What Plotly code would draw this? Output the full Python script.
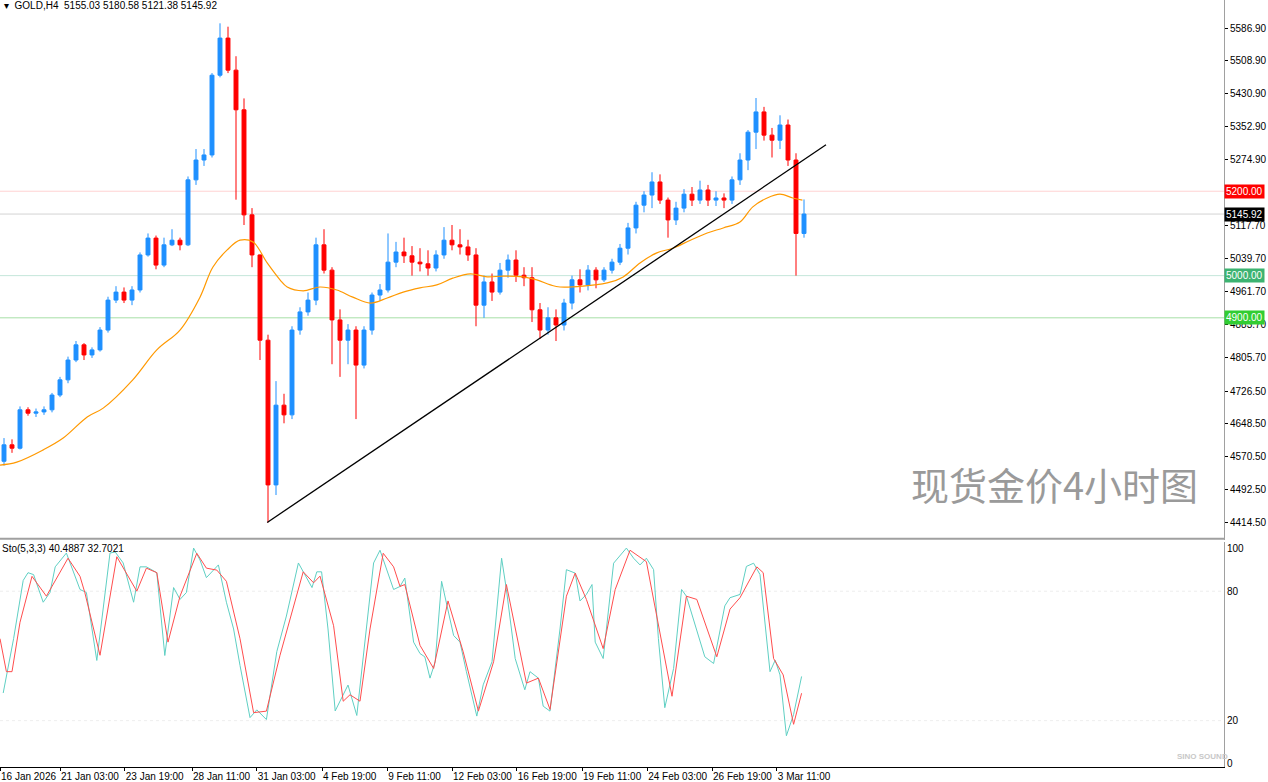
import plotly.graph_objects as go

# H4 candles, one per ~2 bars of the original (bar index on x)
closes = [4599, 4591, 4682, 4674, 4677, 4682, 4717, 4753, 4800, 4836,
          4812, 4824, 4871, 4942, 4961, 4942, 4966, 5049, 5089, 5025,
          5073, 5084, 5073, 5227, 5274, 5286, 5475, 5563, 5487, 5393,
          5144, 5049, 4847, 4504, 4693, 4670, 4871, 4914, 4942, 5073,
          5013, 4895, 4847, 4871, 4788, 4871, 4954, 4966, 5032, 5056,
          5047, 5032, 5028, 5018, 5049, 5084, 5073, 5068, 5049, 4930,
          4985, 4961, 5013, 5037, 5001, 4995, 4919, 4871, 4900, 4883,
          4935, 4990, 4978, 5013, 4990, 5013, 5032, 5065, 5113, 5167,
          5191, 5222, 5179, 5132, 5160, 5193, 5179, 5203, 5179, 5184,
          5179, 5227, 5274, 5340, 5388, 5333, 5321, 5357, 5274, 5100,
          5145.92]
opens = [4560, 4599, 4591, 4682, 4674, 4677, 4682, 4717, 4753, 4800,
         4836, 4812, 4824, 4871, 4942, 4961, 4942, 4966, 5049, 5089,
         5025, 5073, 5084, 5073, 5227, 5274, 5286, 5475, 5563, 5487,
         5393, 5144, 5049, 4847, 4504, 4693, 4670, 4871, 4914, 4942,
         5073, 5013, 4895, 4847, 4871, 4788, 4871, 4954, 4966, 5032,
         5056, 5047, 5032, 5028, 5018, 5049, 5084, 5073, 5068, 5049,
         4930, 4985, 4961, 5013, 5037, 5001, 4995, 4919, 4871, 4900,
         4883, 4935, 4990, 4978, 5013, 4990, 5013, 5032, 5065, 5113,
         5167, 5191, 5222, 5179, 5132, 5160, 5193, 5179, 5203, 5179,
         5184, 5179, 5227, 5274, 5340, 5388, 5333, 5321, 5357, 5274,
         5100]
highs = [4615, 4612, 4690, 4688, 4685, 4690, 4722, 4760, 4808, 4845,
         4840, 4830, 4878, 4950, 4975, 4972, 4975, 5055, 5100, 5095,
         5090, 5110, 5090, 5235, 5300, 5300, 5480, 5598, 5590, 5520,
         5420, 5160, 5050, 4860, 4750, 4720, 4880, 4925, 4960, 5090,
         5110, 5020, 4920, 4885, 4880, 4880, 4960, 4980, 5100, 5080,
         5090, 5070, 5065, 5060, 5060, 5115, 5120, 5110, 5085, 5065,
         5000, 5005, 5030, 5050, 5060, 5020, 5020, 4935, 4925, 4920,
         4945, 5000, 5015, 5025, 5020, 5020, 5040, 5075, 5125, 5175,
         5200, 5245, 5240, 5185, 5175, 5205, 5210, 5225, 5215, 5200,
         5195, 5235, 5290, 5345, 5421, 5400, 5350, 5380, 5370, 5290,
         5180.58]
lows = [4550, 4580, 4588, 4668, 4665, 4670, 4676, 4712, 4745, 4795,
        4800, 4805, 4820, 4865, 4935, 4935, 4930, 4960, 5045, 5015,
        5020, 5070, 5060, 5070, 5215, 5260, 5280, 5470, 5480, 5180,
        5120, 5020, 4800, 4415, 4480, 4650, 4660, 4860, 4905, 4930,
        5005, 4790, 4760, 4790, 4660, 4780, 4860, 4940, 4960, 5020,
        5030, 5000, 5010, 5000, 5010, 5040, 5060, 5050, 5035, 4880,
        4900, 4940, 4955, 4995, 4985, 4975, 4890, 4850, 4860, 4845,
        4870, 4920, 4960, 4965, 4970, 4985, 5005, 5025, 5050, 5100,
        5150, 5160, 5170, 5090, 5120, 5150, 5165, 5170, 5165, 5165,
        5160, 5170, 5215, 5250, 5300, 5320, 5280, 5300, 5260, 5000,
        5090]

# moving average
ma_idx = [-0.5, 1.6, 4.9, 7.4, 10.4, 12.4, 16.1, 19.1, 22, 24.5, 26.1, 27.9,
          29.5, 31.1, 32.9, 34.5, 35.4, 37.4, 39.5, 41.6, 43.6, 45.8, 47.9,
          49.9, 52, 54.1, 56.1, 58.3, 60.4, 62.4, 64.9, 66.6, 68.3, 69.5,
          75.4, 77.4, 79.5, 81.6, 83.6, 85.8, 87.9, 89.9, 92, 93.6, 95.4,
          97, 98.6, 99.8]
ma_val = [4551, 4558, 4587, 4615, 4665, 4686, 4753, 4824, 4871, 4949, 5020, 5061,
          5084, 5080, 5030, 4990, 4973, 4964, 4973, 4966, 4949, 4935, 4947,
          4961, 4971, 4978, 4994, 5004, 4997, 4999, 4997, 4990, 4978, 4973,
          4983, 4997, 5030, 5054, 5065, 5084, 5101, 5113, 5127, 5163, 5184,
          5193, 5184, 5179]

trend_idx = [32.9, 102.75]
trend_val = [4415, 5310]

k_idx = [-0.1, 0.5, 1.2, 2.4, 3.0, 3.7, 4.9, 5.75, 6.4, 7.8, 9.5, 10.3, 11.6,
         13.25, 13.9, 14.9, 16.2, 17, 17.8, 19.1, 20.1, 21.2, 22, 22.8, 23.7,
         24.5, 25.3, 26.8, 27.8, 28.7, 29.5, 30.75, 31.6, 32.8, 34.1, 35.3,
         36.8, 38.5, 39.1, 39.7, 40.5, 41.4, 43, 44.1, 45.3, 46.2, 47, 48.7,
         49.5, 50.1, 51.2, 52, 52.6, 53.25, 53.9, 54.7, 56.2, 57, 57.8, 59.1,
         59.9, 61, 62.2, 62.8, 63.9, 65.1, 65.75, 66.8, 67.4, 68.25, 69.5,
         70.3, 71.4, 72, 72.8, 73.5, 73.9, 74.9, 76.2, 77.8, 78.7, 79.5, 80.3,
         81.2, 81.8, 82.6, 83.7, 84.7, 85.3, 87.6, 88.7, 90.1, 90.75, 92,
         92.8, 93.7, 94.5, 95.75, 96.4, 97, 97.8, 98.7, 99.7]
k_val = [32.8, 44, 58, 85, 88.6, 87.7, 74.9, 79.4, 91.3, 97.7, 80.8, 79.4, 47.9,
         97.7, 98.2, 93.1, 74.9, 91.3, 91.3, 88.6, 50.2, 81.7, 76.2, 79.4, 100,
         94.5, 86.3, 92.2, 74.9, 62.5, 45.6, 21.4, 25, 20.5, 52, 68.5,
         93.1, 81.7, 89, 89, 62.5, 24.5, 36.5, 22.4, 62.5, 93.1, 99, 80.8,
         82.2, 86.1, 56.4, 51.1, 49.6, 39.7, 47.3, 84.6, 59.5, 56.4, 42.7, 22.1,
         36.6, 47.3, 95.3, 80.8, 48.8, 34.3, 42.7, 39.7, 26.7, 24.4, 62.5,
         90, 88.4, 75.5, 78.5, 83.1, 56.4, 48.8, 93, 100, 95.3, 92.2, 95.3,
         90, 58, 26, 44.2, 80.8, 77.7, 49.6, 46.5, 73.2, 77, 78.5,
         91.5, 93, 87.7, 42.7, 48, 41.2, 13, 22.9, 40.4887]
d_idx = [-0.5, 0.3, 1, 2.0, 3.5, 5.3, 8.0, 9.5, 10.1, 12, 14.1, 15.75, 16.6,
         17.8, 19.1, 20.5, 22, 24.1, 25.3, 26.6, 27.8, 29.5, 31.2, 32.8, 34.5,
         37.4, 38.7, 39.5, 41.2, 42.4, 43.25, 44.5, 45.75, 47.4, 48.7, 49.5,
         50.1, 52, 53.7, 55.5, 57.4, 59.3, 61.2, 62.8, 65.3, 66.8, 68.25, 70.3,
         71.4, 72.8, 74.9, 76.4, 78.25, 80.3, 82.4, 83.5, 85.3, 86.6, 89.1,
         90.75, 92, 94.1, 94.9, 96.2, 97.4, 98.7, 99.7]
d_val = [58, 42.7, 42.7, 65.6, 86.9, 77.7, 95.3, 86.9, 79.4, 50.3, 96, 85.4, 80,
         90.7, 88.6, 56.4, 77.7, 97.6, 90.7, 89.8, 84.6, 58, 23.7, 24.4, 50.3,
         89, 83.9, 87, 64, 29, 32, 29, 62.5, 97.6, 91.3, 82.2,
         83.1, 54.9, 44.2, 75.5, 51.9, 24.4, 47.3, 83.1, 37.4, 39.7, 25.2, 77.7,
         88.4, 76.2, 53.4, 80.8, 99, 93.7, 51.9, 31.3, 77.7, 76.2, 49.6,
         71.7, 77, 91.3, 88.6, 48.8, 41.2, 18.3, 32.7021]

price_ticks = [5586.90, 5508.90, 5430.90, 5352.90, 5274.90, 5117.70, 5039.70,
               4961.70, 4883.70, 4805.70, 4726.50, 4648.50, 4570.50, 4492.50, 4414.50]
time_idx = [-0.5, 7, 15.1, 23.5, 31.6, 39.75, 47.9, 56, 64.1, 72.25, 80.4, 88.5, 96.6]
time_text = ["16 Jan 2026", "21 Jan 03:00", "23 Jan 19:00", "28 Jan 11:00",
             "31 Jan 03:00", "4 Feb 19:00", "9 Feb 11:00", "12 Feb 03:00",
             "16 Feb 19:00", "19 Feb 11:00", "24 Feb 03:00", "26 Feb 19:00",
             "3 Mar 11:00"]
levels = [5200.00, 5145.92, 5000.00, 4900.00]
level_line = ["rgba(255,0,0,0.18)", "#d3d3d3", "#c4e6da", "#a6dfa6"]
level_box = ["#ff0000", "#000000", "#3cb371", "#32cd32"]

FONT = "Liberation Sans"
TICKFONT = dict(family=FONT, size=10, color="black")
fig = go.Figure()

fig.add_trace(go.Candlestick(
    x=list(range(len(closes))), open=opens, high=highs, low=lows, close=closes,
    increasing=dict(line=dict(color="#1e90ff", width=1), fillcolor="#1e90ff"),
    decreasing=dict(line=dict(color="#ff0000", width=1), fillcolor="#ff0000"),
    whiskerwidth=0, xaxis="x", yaxis="y", hoverinfo="skip",
))
fig.add_trace(go.Scatter(x=ma_idx, y=ma_val, mode="lines",
                         line=dict(color="#ff9900", width=1.2, shape="spline"),
                         xaxis="x", yaxis="y", hoverinfo="skip"))
fig.add_trace(go.Scatter(x=trend_idx, y=trend_val, mode="lines",
                         line=dict(color="#000000", width=1.3),
                         xaxis="x", yaxis="y", hoverinfo="skip"))
fig.add_trace(go.Scatter(x=k_idx, y=k_val, mode="lines",
                         line=dict(color="#5fcfc3", width=1),
                         xaxis="x", yaxis="y2", hoverinfo="skip"))
fig.add_trace(go.Scatter(x=d_idx, y=d_val, mode="lines",
                         line=dict(color="#ff4d4d", width=1),
                         xaxis="x", yaxis="y2", hoverinfo="skip"))

for lvl, lc, bc in zip(levels, level_line, level_box):
    fig.add_shape(type="line", xref="paper", x0=0, x1=1, yref="y", y0=lvl, y1=lvl,
                  line=dict(color=lc, width=1), layer="below")
    fig.add_annotation(xref="paper", x=1, yref="y", y=lvl, text=f"{lvl:.2f}",
                       showarrow=False, xanchor="left", xshift=0, bgcolor=bc,
                       font=dict(family=FONT, size=10, color="white"), borderpad=1)

for lvl in [80, 20]:
    fig.add_shape(type="line", xref="paper", x0=0, x1=1, yref="y2", y0=lvl, y1=lvl,
                  line=dict(color="#eeeeee", width=1, dash="dot"), layer="below")

# pane separator
fig.add_shape(type="line", xref="paper", x0=0, x1=1, yref="paper", y0=0.2975, y1=0.2975,
              line=dict(color="#a0a0a0", width=2))

fig.add_annotation(xref="paper", yref="paper", x=0.002, y=1, xanchor="left", yanchor="top",
                   text="▾  GOLD,H4  5155.03 5180.58 5121.38 5145.92", showarrow=False,
                   font=dict(family=FONT, size=10, color="black"), yshift=2)
fig.add_annotation(xref="paper", yref="paper", x=0.0, y=0.296, xanchor="left", yanchor="top",
                   text="Sto(5,3,3) 40.4887 32.7021", showarrow=False,
                   font=dict(family=FONT, size=10, color="black"), yshift=-1)
fig.add_annotation(xref="paper", yref="paper", x=0.98, y=0.37, xanchor="right", yanchor="middle",
                   text="现货金价4小时图", showarrow=False,
                   font=dict(family="Noto Sans CJK SC", size=38, color="#9a9a9a"))
fig.add_annotation(xref="paper", yref="paper", x=0.96, y=0.005, xanchor="left", yanchor="bottom",
                   text="<b>SINO SOUND</b>", showarrow=False,
                   font=dict(family=FONT, size=8, color="#c8c8c8"))

fig.update_layout(
    width=1268, height=782,
    margin=dict(l=0, r=44, t=0, b=15, autoexpand=False),
    paper_bgcolor="white", plot_bgcolor="white",
    showlegend=False,
    xaxis=dict(range=[-0.5, 152.5], showgrid=False, zeroline=False, rangeslider=dict(visible=False),
               tickvals=time_idx, ticktext=time_text, ticks="outside", ticklen=3,
               tickcolor="#000", ticklabelposition="outside right", tickangle=0,
               automargin=False, tickfont=TICKFONT,
               showline=True, linecolor="#000", linewidth=1, anchor="y2"),
    yaxis=dict(domain=[0.296, 1], range=[4373.5, 5653.26], side="right", showgrid=False,
               zeroline=False, tickvals=price_ticks, ticktext=[f"{v:.2f}" for v in price_ticks],
               ticks="outside", ticklen=3, tickcolor="#000", automargin=False,
               tickfont=TICKFONT, showline=True, linecolor="#a0a0a0", linewidth=1),
    yaxis2=dict(domain=[0, 0.293], range=[-1.5, 102.7], side="right", showgrid=False,
                zeroline=False, tickvals=[100, 80, 20, 0], ticktext=["100", "80", "20", "0"],
                ticks="", tickfont=TICKFONT, automargin=False,
                showline=True, linecolor="#a0a0a0", linewidth=1),
)

fig.write_html("out.html", config={"displayModeBar": False},
               post_script="document.body.style.margin='0';document.body.style.overflow='hidden';")
